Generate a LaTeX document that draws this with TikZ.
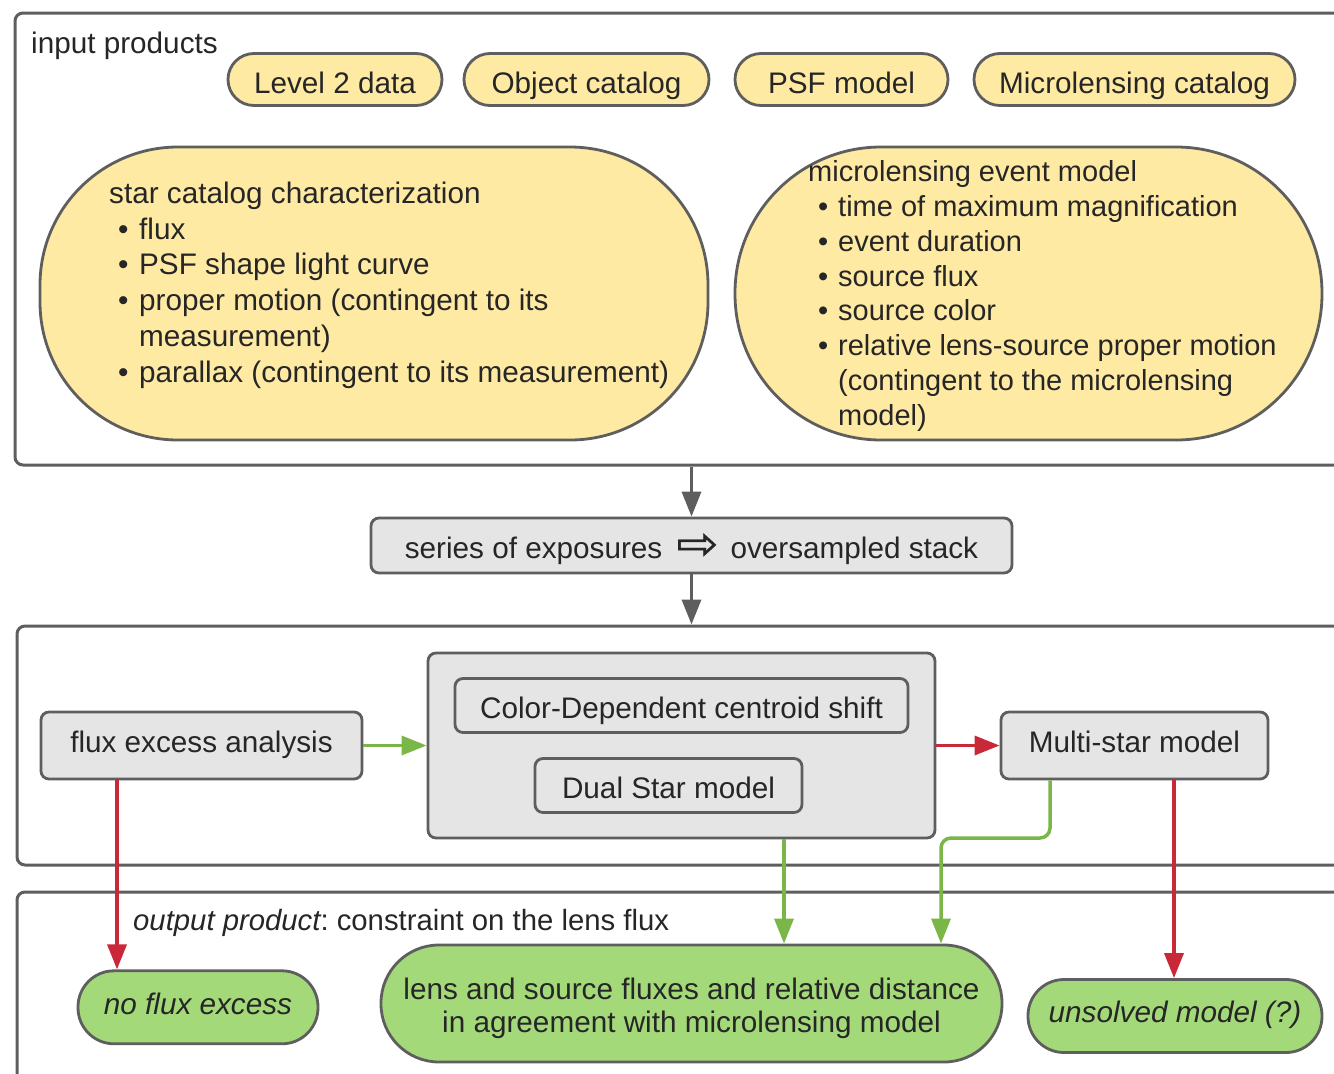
\documentclass[tikz,border=0pt]{standalone}
\usepackage{fontspec}
\setmainfont{Liberation Sans}
\newfontfamily\arrowfont[FakeBold=0.6]{DejaVu Sans}
\usetikzlibrary{arrows.meta,calc}

\definecolor{edge}{RGB}{94,94,94}
\definecolor{ink}{RGB}{38,38,38}
\definecolor{sand}{RGB}{255,234,163}
\definecolor{leaf}{RGB}{164,217,121}
\definecolor{paper}{RGB}{229,229,229}
\definecolor{flowgray}{RGB}{94,94,94}
\definecolor{flowred}{RGB}{201,40,56}
\definecolor{flowgreen}{RGB}{122,183,72}

\frenchspacing
\newcommand\bodyfont{\fontsize{29.7}{35}\selectfont}

\tikzset{
  every node/.style={text=ink, font=\bodyfont},
  % single-line text: the height sets where the baseline sits in the box
  tb/.style={text depth=6pt, text height=#1},
  frame/.style={draw=edge, line width=3pt, rounded corners=8pt, inner sep=0pt},
  prod/.style={draw=edge, fill=sand, line width=2.8pt, rounded corners=26pt,
               minimum height=52pt, inner sep=0pt, tb=33pt},
  bigprod/.style={draw=edge, fill=sand, line width=2.8pt, minimum height=293pt, inner sep=0pt},
  gbox/.style={draw=edge, fill=paper, line width=2.8pt, rounded corners=8pt, inner sep=0pt},
  result/.style={draw=edge, fill=leaf, line width=2.8pt, inner sep=0pt},
  list/.style={anchor=north west, inner sep=0pt, align=left},
  link/.style={line width=3.5pt, -{Triangle[length=25pt,width=19pt]}},
}

\newcommand\itm{\hspace*{9pt}\makebox[21pt][l]{•}}
\newcommand\itmb{\hspace*{10pt}\makebox[20pt][l]{•}}
\newcommand\hollowarrow{\raisebox{-1pt}{\scalebox{1.48}[1.35]{\arrowfont\fontsize{34}{34}\selectfont ⇨}}}

\begin{document}
\begin{tikzpicture}[x=1pt,y=-1pt]
\useasboundingbox (0,0) rectangle (1334,1074);
\clip (0,0) rectangle (1334,1074);
\fill[white] (0,0) rectangle (1334,1074);

% ---- input products panel ----
\node[frame, minimum width=1345pt, minimum height=452pt] (inbox) at (687.5,239) {};
\node[anchor=base west, inner sep=0pt] (inlabel) at (31,53) {input products};

\node[prod, minimum width=214pt] (lvl2) at (335,79.5) {Level 2 data};
\node[prod, minimum width=245pt] (objcat) at (586.5,79.5) {Object catalog};
\node[prod, minimum width=213pt] (psf) at (841.5,79.5) {PSF model};
\node[prod, minimum width=321pt] (mlcat) at (1134.5,79.5) {Microlensing catalog};

\node[bigprod, rounded corners=138pt, minimum width=668pt] (starcat) at (374,293.5) {};
\node[list, font=\fontsize{29.7}{35.7}\selectfont] (startxt) at (109,181.8) {%
star catalog characterization\\
\itm flux\\
\itm PSF shape light curve\\
\itm proper motion (contingent to its\\
\hspace*{30pt}measurement)\\
\itm parallax (contingent to its measurement)};

\node[bigprod, rounded corners=146pt, minimum width=587pt] (mlmodel) at (1028.5,293.5) {};
\node[list, font=\fontsize{29}{34.8}\selectfont] (mltxt) at (808,160.5) {%
microlensing event model\\
\itmb time of maximum magnification\\
\itmb event duration\\
\itmb source flux\\
\itmb source color\\
\itmb relative lens-source proper motion\\
\hspace*{30pt}(contingent to the microlensing\\
\hspace*{30pt}model)};

% ---- stacking step ----
\node[gbox, tb=31.6pt, minimum width=641pt, minimum height=55pt] (series) at (691.5,545.5)
  {series of exposures\hspace{14pt}\hollowarrow\hspace{12pt}oversampled stack};

% ---- analysis panel ----
\node[frame, minimum width=1343pt, minimum height=239pt] (anbox) at (688.5,745.5) {};
\node[gbox, tb=19.6pt, minimum width=321pt, minimum height=67pt] (flux) at (201.5,745.5) {flux excess analysis};
\node[gbox, minimum width=507pt, minimum height=185pt] (cont) at (681.5,745.5) {};
\node[gbox, tb=31.6pt, minimum width=453pt, minimum height=54pt] (cds) at (681.5,705.5) {Color-Dependent centroid shift};
\node[gbox, tb=31.6pt, minimum width=267pt, minimum height=54pt] (dual) at (668.5,785.5) {Dual Star model};
\node[gbox, tb=19.6pt, minimum width=267pt, minimum height=67pt] (multi) at (1134.5,745.5) {Multi-star model};

% ---- output panel ----
\node[frame, minimum width=1343pt, minimum height=208pt] (outbox) at (688.5,996) {};
\node[anchor=base west, inner sep=0pt, font=\fontsize{29.3}{35}\selectfont] (outlabel) at (133,930.5)
  {{\itshape output product}: constraint on the lens flux};

\node[result, tb=19.4pt, rounded corners=36pt, minimum width=240pt, minimum height=73pt] (noflux) at (198,1007.3) {\textit{no flux excess}};
\node[result, rounded corners=58pt, minimum width=621pt, minimum height=117pt] (lens) at (691.5,1003.5) {};
\node[anchor=north, inner sep=0pt, align=center, font=\fontsize{29.7}{32.5}\selectfont] (lenstxt) at (691.5,978)
  {lens and source fluxes and relative distance\\in agreement with microlensing model};
\node[result, tb=19.4pt, rounded corners=36pt, minimum width=294pt, minimum height=73pt] (unsolved) at (1175,1016) {\textit{unsolved model (?)}};

% ---- connectors ----
\draw[link, flowgray] (series.north |- inbox.south) -- (series.north);
\draw[link, flowgray] (series.south) -- (series.south |- anbox.north);

\draw[link, flowgreen] (flux.east) -- (cont.west);
\draw[link, flowred] (cont.east) -- (multi.west);

\coordinate (fluxout) at ([xshift=-84.5pt]flux.south);
\draw[link, flowred] (fluxout) -- (fluxout |- noflux.north);

\coordinate (contout) at ([xshift=102.5pt]cont.south);
\draw[link, flowgreen] (contout) -- (contout |- lens.north);

\coordinate (multiout) at ([xshift=-84.5pt]multi.south);
\coordinate (bend) at (941,838);
\draw[link, flowgreen, rounded corners=10pt] (multiout) |- (bend) -- (bend |- lens.north);

\coordinate (multired) at ([xshift=39.5pt]multi.south);
\draw[link, flowred] (multired) -- (multired |- unsolved.north);
\end{tikzpicture}
\end{document}
